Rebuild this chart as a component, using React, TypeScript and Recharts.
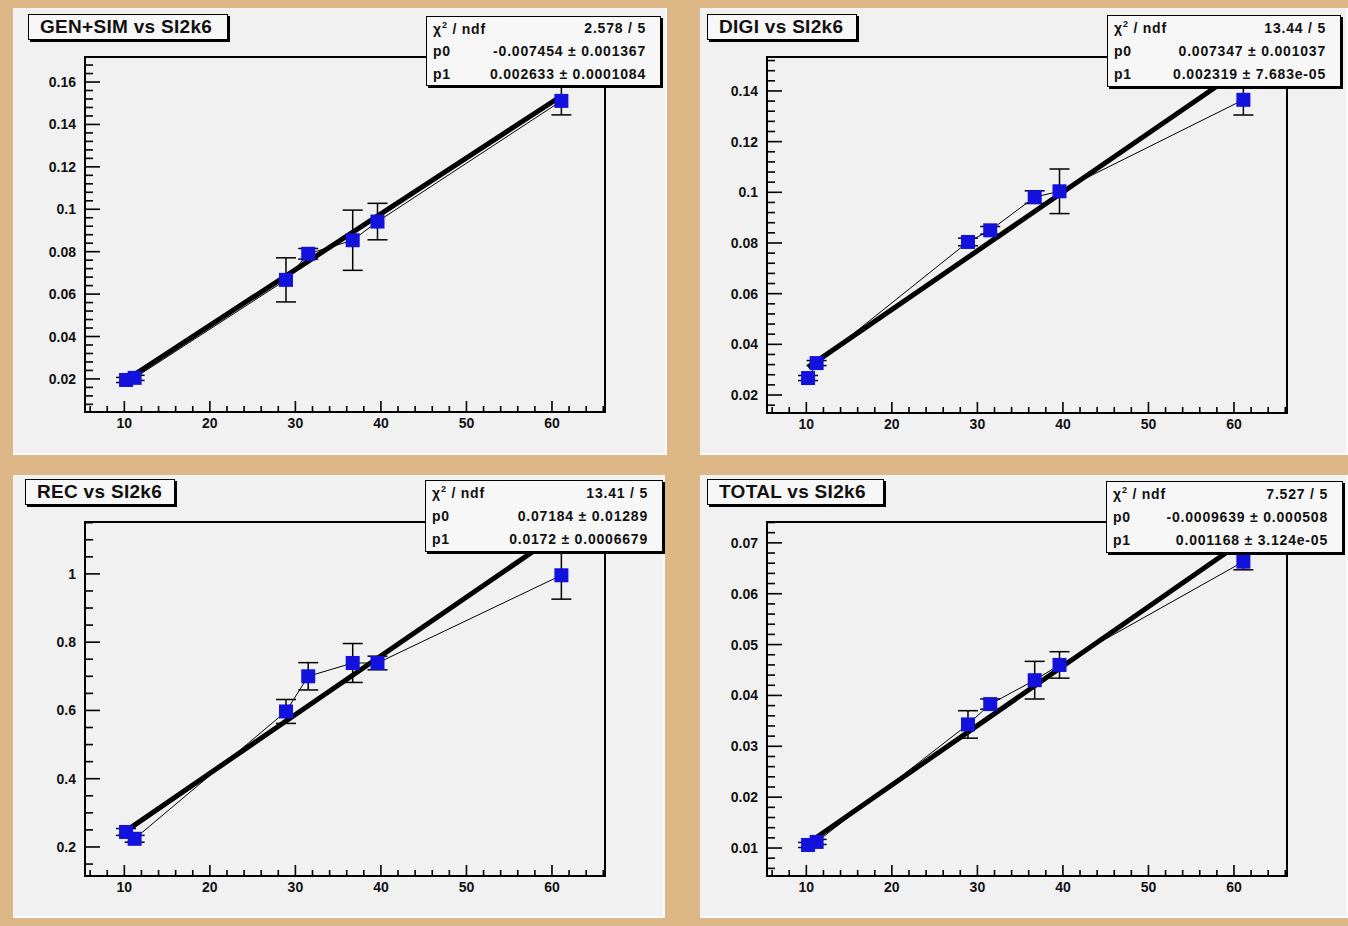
import React from 'react';
import { ComposedChart, Scatter, XAxis, YAxis, ErrorBar, ReferenceArea } from 'recharts';

// SI2k6 rating of each test machine (same x for all four pads)
const si2k6 = [10.2, 11.2, 28.9, 31.5, 36.7, 39.6, 61.1];

// time per event
const genSimTime = [0.0195, 0.0205, 0.0667, 0.079, 0.0854, 0.0942, 0.1511];
const genSimErr = [0.0012, 0.0012, 0.0104, 0.0025, 0.0142, 0.0086, 0.0066];

const digiTime = [0.0267, 0.0326, 0.0804, 0.085, 0.0981, 0.1004, 0.1365];
const digiErr = [0.001, 0.001, 0.0015, 0.0015, 0.0025, 0.0088, 0.006];

const recTime = [0.244, 0.224, 0.597, 0.7, 0.739, 0.739, 0.996];
const recErr = [0.01, 0.01, 0.035, 0.04, 0.057, 0.02, 0.07];

const totalTime = [0.0106, 0.0112, 0.0343, 0.0383, 0.043, 0.046, 0.0663];
const totalErr = [0.0005, 0.0005, 0.0027, 0.001, 0.0037, 0.0026, 0.0016];

// linear fit results (pol1) shown in the stats boxes
const genSimFit = [-0.007454, 0.002633];
const digiFit = [0.007347, 0.002319];
const recFit = [0.07184, 0.0172];
const totalFit = [-0.0009639, 0.001168];

const genSimStats = ['2.578 / 5', '-0.007454 \u00b1 0.001367', '0.002633 \u00b1 0.0001084'];
const digiStats = ['13.44 / 5', '0.007347 \u00b1 0.001037', '0.002319 \u00b1 7.683e-05'];
const recStats = ['13.41 / 5', '0.07184 \u00b1 0.01289', '0.0172 \u00b1 0.0006679'];
const totalStats = ['7.527 / 5', '-0.0009639 \u00b1 0.000508', '0.001168 \u00b1 3.124e-05'];

// axis ticks
const xMajor = [10, 20, 30, 40, 50, 60];
const xLabels = ['10', '20', '30', '40', '50', '60'];

const genSimYMajor = [0.02, 0.04, 0.06, 0.08, 0.1, 0.12, 0.14, 0.16];
const genSimYLabels = ['0.02', '0.04', '0.06', '0.08', '0.1', '0.12', '0.14', '0.16'];
const digiYMajor = [0.02, 0.04, 0.06, 0.08, 0.1, 0.12, 0.14];
const digiYLabels = ['0.02', '0.04', '0.06', '0.08', '0.1', '0.12', '0.14'];
const recYMajor = [0.2, 0.4, 0.6, 0.8, 1];
const recYLabels = ['0.2', '0.4', '0.6', '0.8', '1'];
const totalYMajor = [0.01, 0.02, 0.03, 0.04, 0.05, 0.06, 0.07];
const totalYLabels = ['0.01', '0.02', '0.03', '0.04', '0.05', '0.06', '0.07'];

const X_DOMAIN: [number, number] = [5.4, 66.2];
const X_MINOR = 2;

const FONT = '"Liberation Sans", Arial, Helvetica, sans-serif';
const TAN = '#ddb886';
const PAD_BG = '#f1f1f1';
const MARKER = '#1212dc';

const PANELS = [
  {
    title: 'GEN+SIM vs SI2k6', values: genSimTime, errors: genSimErr, fit: genSimFit, stats: genSimStats,
    yMajor: genSimYMajor, yLabels: genSimYLabels, yMinor: 0.004, yDomain: [0.0044, 0.1718],
    pad: { left: 13, top: 8, width: 654, height: 447 },
    frame: { left: 72, top: 49, right: 592, bottom: 404 },
    titleBox: { left: 15, top: 6, width: 200, height: 26 },
    statsBox: { left: 413, top: 8, width: 235, height: 70 },
  },
  {
    title: 'DIGI vs SI2k6', values: digiTime, errors: digiErr, fit: digiFit, stats: digiStats,
    yMajor: digiYMajor, yLabels: digiYLabels, yMinor: 0.004, yDomain: [0.0129, 0.1534],
    pad: { left: 700, top: 8, width: 648, height: 447 },
    frame: { left: 67, top: 49, right: 587, bottom: 405 },
    titleBox: { left: 7, top: 6, width: 150, height: 26 },
    statsBox: { left: 407, top: 7, width: 234, height: 72 },
  },
  {
    title: 'REC vs SI2k6', values: recTime, errors: recErr, fit: recFit, stats: recStats,
    yMajor: recYMajor, yLabels: recYLabels, yMinor: 0.05, yDomain: [0.115, 1.152],
    pad: { left: 13, top: 475, width: 652, height: 443 },
    frame: { left: 72, top: 47, right: 592, bottom: 401 },
    titleBox: { left: 12, top: 4, width: 150, height: 26 },
    statsBox: { left: 412, top: 5, width: 238, height: 72 },
  },
  {
    title: 'TOTAL vs SI2k6', values: totalTime, errors: totalErr, fit: totalFit, stats: totalStats,
    yMajor: totalYMajor, yLabels: totalYLabels, yMinor: 0.002, yDomain: [0.0045, 0.0741],
    pad: { left: 700, top: 475, width: 648, height: 443 },
    frame: { left: 67, top: 47, right: 587, bottom: 401 },
    titleBox: { left: 7, top: 4, width: 177, height: 26 },
    statsBox: { left: 406, top: 6, width: 237, height: 72 },
  },
];

// all tick positions (major + minor) in a domain
function tickList(step: number, domain: number[]) {
  const out: number[] = [];
  const start = Math.ceil(domain[0] / step - 1e-9);
  for (let i = start; i * step <= domain[1] + 1e-9; i++) out.push(Math.round(i * step * 1e6) / 1e6);
  return out;
}

function majorIndex(majors: number[], v: number) {
  return majors.findIndex((m) => Math.abs(m - v) < 1e-7);
}

function YTick(props: any) {
  const { x, y, payload, majors, labels } = props;
  const idx = majorIndex(majors, payload.value);
  const len = idx >= 0 ? 15 : 8;
  return (
    <g>
      <line x1={x} y1={y} x2={x + len} y2={y} stroke="#000" strokeWidth={1.6} />
      {idx >= 0 && (
        <text x={x - 9} y={y} dy="0.36em" textAnchor="end" fontSize={14} fontWeight={700} fontFamily={FONT} fill="#111">
          {labels[idx]}
        </text>
      )}
    </g>
  );
}

function XTick(props: any) {
  const { x, y, payload } = props;
  const idx = majorIndex(xMajor, payload.value);
  const len = idx >= 0 ? 11 : 6;
  return (
    <g>
      <line x1={x} y1={y} x2={x} y2={y - len} stroke="#000" strokeWidth={1.6} />
      {idx >= 0 && (
        <text x={x} y={y + 16} textAnchor="middle" fontSize={14} fontWeight={700} fontFamily={FONT} fill="#111">
          {xLabels[idx]}
        </text>
      )}
    </g>
  );
}

const Square = (props: any) => {
  const { cx, cy } = props;
  if (cx == null || cy == null) return <g />;
  return <rect x={cx - 7} y={cy - 7} width={14} height={14} fill={MARKER} />;
};

const NoMarker = () => <g />;

function Panel({ cfg }: { cfg: any }) {
  const points = si2k6.map((x, i) => ({ x, y: cfg.values[i], err: cfg.errors[i] }));
  const fitLine = [si2k6[0], si2k6[si2k6.length - 1]].map((x) => ({ x, y: cfg.fit[0] + cfg.fit[1] * x }));
  const { pad, frame } = cfg;
  const yAxisW = 60;
  const xAxisH = 30;
  const margin = {
    top: frame.top,
    left: frame.left - yAxisW,
    right: pad.width - frame.right,
    bottom: pad.height - frame.bottom - xAxisH,
  };
  const xTicks = tickList(X_MINOR, X_DOMAIN);
  const yTicks = tickList(cfg.yMinor, cfg.yDomain);

  return (
    <div
      style={{
        position: 'absolute', left: pad.left, top: pad.top, width: pad.width, height: pad.height,
        background: PAD_BG, boxSizing: 'border-box', borderRight: '2px solid #fbfbfb', borderBottom: '2px solid #fbfbfb',
      }}
    >
      <ComposedChart width={pad.width} height={pad.height} margin={margin}>
        <XAxis
          type="number" dataKey="x" domain={X_DOMAIN} allowDataOverflow ticks={xTicks} interval={0}
          height={xAxisH} tickSize={0} tickMargin={0} axisLine={{ stroke: '#000', strokeWidth: 2 }}
          tickLine={false} tick={(p: any) => <XTick {...p} />}
        />
        <YAxis
          type="number" dataKey="y" domain={cfg.yDomain} allowDataOverflow ticks={yTicks} interval={0}
          width={yAxisW} tickSize={0} tickMargin={0} axisLine={{ stroke: '#000', strokeWidth: 2 }}
          tickLine={false} tick={(p: any) => <YTick {...p} majors={cfg.yMajor} labels={cfg.yLabels} />}
        />
        <ReferenceArea
          x1={X_DOMAIN[0]} x2={X_DOMAIN[1]} y1={cfg.yDomain[0]} y2={cfg.yDomain[1]}
          fill="none" fillOpacity={0} stroke="#000" strokeWidth={2} strokeOpacity={1}
        />
        <Scatter
          data={fitLine} line={{ stroke: '#000', strokeWidth: 5 }} lineType="joint"
          shape={NoMarker} isAnimationActive={false}
        />
        <Scatter
          data={points} line={{ stroke: '#000', strokeWidth: 1 }} lineType="joint"
          shape={Square} isAnimationActive={false}
        >
          <ErrorBar dataKey="err" direction="y" width={10} stroke="#000" strokeWidth={1.5} />
        </Scatter>
      </ComposedChart>

      <div
        style={{
          position: 'absolute', ...cfg.titleBox, boxSizing: 'border-box', background: '#f7f7f7',
          border: '1px solid #000', boxShadow: '2px 2px 0 #000', fontFamily: FONT, fontWeight: 700,
          fontSize: 19, letterSpacing: 0.3, lineHeight: '24px', paddingLeft: 11, color: '#111', whiteSpace: 'nowrap',
        }}
      >
        {cfg.title}
      </div>

      <div
        style={{
          position: 'absolute', ...cfg.statsBox, boxSizing: 'border-box', background: '#f7f7f7',
          border: '1px solid #000', boxShadow: '2px 2px 0 #000', fontFamily: FONT, fontWeight: 700,
          fontSize: 14, letterSpacing: 0.8, color: '#111', display: 'flex', flexDirection: 'column',
        }}
      >
        {[
          <span key="c">{'\u03c7'}<sup style={{ fontSize: 9 }}>2</sup> / ndf</span>,
          <span key="p0">p0</span>,
          <span key="p1">p1</span>,
        ].map((lab, i) => (
          <div key={i} style={{ flex: 1, display: 'flex', alignItems: 'center', justifyContent: 'space-between', padding: '0 14px 0 6px', whiteSpace: 'nowrap' }}>
            {lab}
            <span>{cfg.stats[i]}</span>
          </div>
        ))}
      </div>
    </div>
  );
}

export default function App() {
  return (
    <div style={{ position: 'absolute', left: 0, top: 0, width: 1348, height: 926, background: TAN, overflow: 'hidden' }}>
      {PANELS.map((cfg) => (
        <Panel key={cfg.title} cfg={cfg} />
      ))}
    </div>
  );
}
